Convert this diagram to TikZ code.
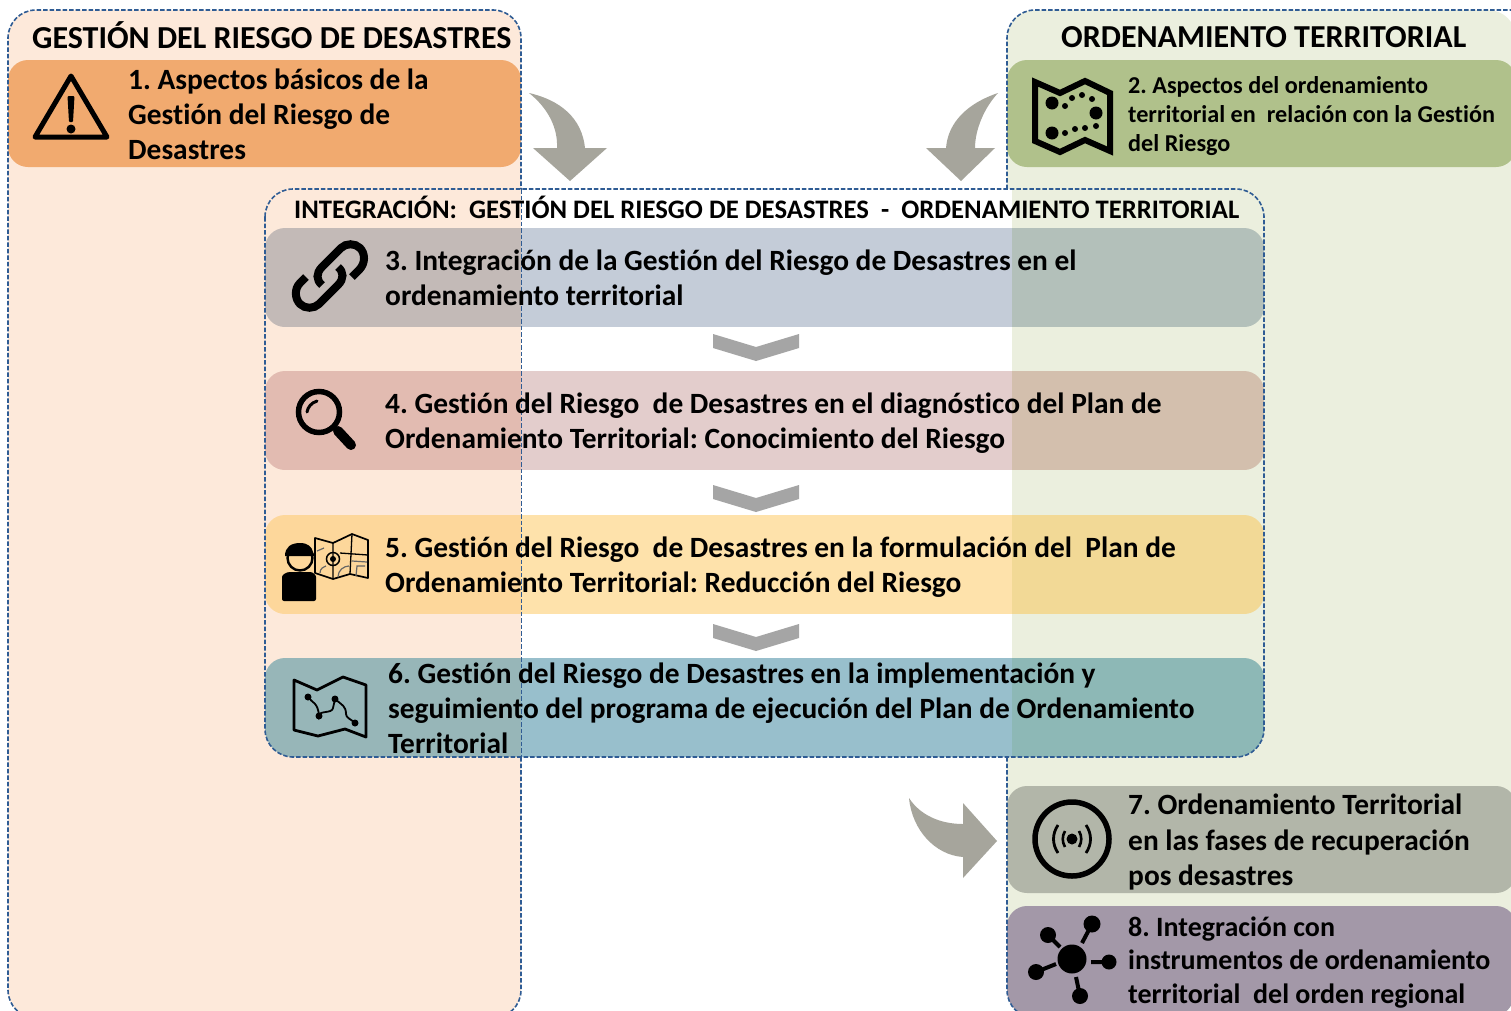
\documentclass[tikz,border=0pt]{standalone}
\usepackage{fontspec}
\setmainfont[Ligatures=CommonOff]{Carlito}
\frenchspacing
\definecolor{bgL}{HTML}{FDE9DA}
\definecolor{bgR}{HTML}{EBEFDE}
\definecolor{dashc}{HTML}{2F5C94}
\definecolor{orangeb}{HTML}{F1AA6F}
\definecolor{greenb}{HTML}{B0C18B}
\definecolor{arrowc}{HTML}{A6A59C}
\definecolor{chevc}{HTML}{A5A5A5}
\definecolor{sevenb}{HTML}{B2B6A9}
\definecolor{eightb}{HTML}{A398A8}
\definecolor{bta}{HTML}{C3BAB7}\definecolor{btb}{HTML}{C4CCD8}\definecolor{btc}{HTML}{B3C0BA}
\definecolor{bfa}{HTML}{E2BBB1}\definecolor{bfb}{HTML}{E3CDCC}\definecolor{bfc}{HTML}{D3BFAD}
\definecolor{bva}{HTML}{FDD79B}\definecolor{bvb}{HTML}{FEE2AB}\definecolor{bvc}{HTML}{F2D996}
\definecolor{bsa}{HTML}{97B6B8}\definecolor{bsb}{HTML}{98BFCC}\definecolor{bsc}{HTML}{8DB8B6}
\tikzset{
  x=1pt,y=-1pt,
  dashb/.style={draw=dashc,line width=1.6pt,dash pattern=on 4.5pt off 2pt},
  lab/.style={anchor=west,inner sep=0pt,align=left,text=black},
  fa/.style={font=\fontsize{29.4}{35.2}\selectfont\bfseries},
  fb/.style={font=\fontsize{24.2}{29}\selectfont\bfseries},
  fd/.style={font=\fontsize{28}{33.4}\selectfont\bfseries},
  ttl/.style={anchor=base west,inner sep=0pt,text=black},
  ico/.style={draw=black,line width=5pt,line join=round,line cap=round},
  blockarrow/.style={fill=arrowc},
  chev/.style={fill=chevc},
}
\newcommand{\bandbox}[5]{%
  \begin{scope}
    \clip[rounded corners=28pt] (265,189) rectangle (1264,757);
    \clip[rounded corners=20pt] (265,#1) rectangle (1264,#2);
    \fill[#3] (265,#1) rectangle (521,#2);
    \fill[#4] (521,#1) rectangle (1012,#2);
    \fill[#5] (1012,#1) rectangle (1264,#2);
  \end{scope}}
\begin{document}
\begin{tikzpicture}
\useasboundingbox (0,0) rectangle (1511,1010);
\fill[white] (0,0) rectangle (1511,1010);
% background panels
\fill[bgL,rounded corners=28pt] (8,10) rectangle (521,1018);
\fill[bgR,rounded corners=28pt] (1007,10) rectangle (1516,1018);
\fill[white] (1007,189) rectangle (1012,757);
\begin{scope}
  \clip[rounded corners=28pt] (265,189) rectangle (1264,757);
  \fill[white] (521,189) rectangle (1012,757);
\end{scope}
% header boxes
\fill[orangeb,rounded corners=20pt] (8,60) rectangle (521,167);
\fill[greenb,rounded corners=20pt] (1007,60) rectangle (1516,167);
\fill[sevenb,rounded corners=20pt] (1007,786) rectangle (1516,893);
\begin{scope}
  \clip[rounded corners=28pt] (1007,10) rectangle (1516,1018);
  \fill[eightb,rounded corners=20pt] (1007,906) rectangle (1516,1040);
\end{scope}
% integration bands
\bandbox{228}{327}{bta}{btb}{btc}
\bandbox{371}{470}{bfa}{bfb}{bfc}
\bandbox{515}{614}{bva}{bvb}{bvc}
\bandbox{658}{790}{bsa}{bsb}{bsc}
% dashed outlines
\draw[dashb,rounded corners=28pt] (521,757) -- (521,1018) -- (8,1018) -- (8,10) -- (521,10) -- (521,189);
\draw[dashb,line width=1pt] (521,189) -- (521,757);
\draw[dashb,rounded corners=28pt] (1007,189) -- (1007,10) -- (1516,10);
\draw[dashb,rounded corners=28pt] (1007,757) -- (1007,1018) -- (1516,1018);
\draw[dashb,rounded corners=28pt] (265,189) rectangle (1264,757);
% block arrows
\fill[blockarrow] (529,93) .. controls (560,100) and (582,118) .. (585,148) -- (607,148) -- (570,181) -- (533,148) -- (557,148) .. controls (558,128) and (548,108) .. (529,93) -- cycle;
\fill[blockarrow] (998,93) .. controls (968,103) and (948,122) .. (946,148) -- (926,148) -- (961,181) -- (995,148) -- (975,148) .. controls (975,130) and (984,108) .. (998,93) -- cycle;
\fill[blockarrow] (909,798) .. controls (920,815) and (940,824) .. (963,824) -- (963,803) -- (997,841) -- (963,878) -- (963,857) .. controls (935,855) and (912,830) .. (909,798) -- cycle;
% chevrons
\foreach \yy in {334,485,624}{
  \fill[chev] (713,\yy) -- (756,\yy+13) -- (799,\yy) -- (799,\yy+14) -- (756,\yy+27) -- (713,\yy+14) -- cycle;
}
% titles
\node[ttl,font=\fontsize{32}{35}\selectfont\bfseries] (t1) at (32,48) {GESTIÓN DEL RIESGO DE DESASTRES};
\node[ttl,font=\fontsize{32}{35}\selectfont\bfseries] (t2) at (1061,47) {ORDENAMIENTO TERRITORIAL};
\node[ttl,font=\fontsize{26.7}{30}\selectfont\bfseries] (t3) at (294,218) {INTEGRACIÓN:\ \ GESTIÓN DEL RIESGO DE DESASTRES\ \ -\ \ ORDENAMIENTO TERRITORIAL};
% labels
\node[lab,fa] (n1) at (128,114.5) {1. Aspectos básicos de la\\Gestión del Riesgo de\\Desastres};
\node[lab,fb] (n2) at (1128,116) {2. Aspectos del ordenamiento\\territorial en\ \ relación con la Gestión\\del Riesgo};
\node[lab,fa] (n3) at (385,278) {3. Integración de la Gestión del Riesgo de Desastres en el\\ordenamiento territorial};
\node[lab,fa] (n4) at (385,423) {4. Gestión del Riesgo\ \ de Desastres en el diagnóstico del Plan de\\Ordenamiento Territorial: Conocimiento del Riesgo};
\node[lab,fa] (n5) at (385,567) {5. Gestión del Riesgo\ \ de Desastres en la formulación del\ \ Plan de\\Ordenamiento Territorial: Reducción del Riesgo};
\node[lab,fa] (n6) at (388,708.5) {6. Gestión del Riesgo de Desastres en la implementación y\\seguimiento del programa de ejecución del Plan de Ordenamiento\\Territorial};
\node[lab,fa] (n7) at (1128,842) {7. Ordenamiento Territorial\\en las fases de recuperación\\pos desastres};
\node[lab,fd] (n8) at (1128,962.5) {8. Integración con\\instrumentos de ordenamiento\\territorial\ \ del orden regional};
% icon 1 warning
\draw[ico] (71,76) -- (35,137) -- (107,137) -- cycle;
\fill[black,rounded corners=1pt] (67.5,96) -- (74.5,96) -- (73,122) -- (69,122) -- cycle;
\fill[black] (71,129) circle (4.5pt);
% icon 2 zone map
\draw[draw=black,line width=6pt,line join=miter] (1035,82) -- (1060,93) -- (1085,81) -- (1110,93) -- (1110,151) -- (1085,140) -- (1060,152) -- (1035,141) -- cycle;
\foreach \px/\py/\pr in {1052/103/6.5,1065/106/3,1072/98/3,1082/95/3,1092/99/3,1096/113/6.5,1052/133/6.5,1065/133/3,1075/129/3,1085/128/3,1096/126/3}{
  \fill[black] (\px,\py) circle (\pr pt);
}
% icon 3 chain
\draw[black,line width=8pt,line cap=butt] (306,277) -- (300,283) .. controls (294,289) and (295,299) .. (300,304) .. controls (305,309) and (314,309) .. (319,304) -- (338,285) .. controls (344,279) and (344,272) .. (338,267);
\draw[black,line width=8pt,line cap=butt] (352,277) -- (359,270) .. controls (366,263) and (365,253) .. (360,248) .. controls (355,243) and (346,243) .. (341,248) -- (322,267) .. controls (316,273) and (316,280) .. (322,285);
% icon 4 magnifier
\draw[black,line width=5.5pt] (319,412) circle (20.5pt);
\draw[black,line width=3pt,line cap=round] (307,412) .. controls (308,407) and (311,403) .. (317,401);
\draw[black,line width=10pt,line cap=round] (338,431) -- (351,445);
% icon 5 person and map
\fill[black,rounded corners=2pt] (282,601) -- (282,579) .. controls (282,575) and (286,572) .. (292,572) -- (308,572) .. controls (313,572) and (316,575) .. (316,579) -- (316,601) -- cycle;
\draw[black,line width=2.4pt] (300,558) circle (12.5pt);
\fill[black] (285,556) .. controls (285,547) and (291,543) .. (300,543) .. controls (308,543) and (312,547) .. (313,552) -- (315,556) -- cycle;
\draw[black,line width=1.7pt,line join=round] (315,538) -- (333,543) -- (352,534) -- (368,540) -- (368,578) -- (350,574) -- (333,579) -- (315,573) -- cycle;
\draw[black,line width=1.3pt] (333,543) -- (333,579) (352,534) -- (350,574) (340,553) -- (368,555);
\draw[black!60,line width=1.2pt] (317,551) -- (324,548) (352,561) -- (367,562) (338,577) .. controls (338,570) and (344,566) .. (349,566) (320,573) .. controls (320,568) and (324,567) .. (326,566) (356,576) -- (357,566) -- (365,566);
\draw[black,line width=1.5pt] (333,559) circle (6.5pt);
\fill[black] (333,559) circle (3pt);
% icon 6 route map
\draw[black,line width=2.8pt,line join=round] (294,680) -- (317,690) -- (343,677) -- (366,685) -- (366,737) -- (345,729) -- (318,736) -- (294,730) -- cycle;
\draw[black,line width=1.8pt] (308,697) .. controls (312,703) and (318,702) .. (319,716) .. controls (319,710) and (332,714) .. (333,708) -- (335,699) .. controls (342,705) and (346,706) .. (346,714) .. controls (346,718) and (351,719) .. (355,723);
\fill[black] (308,697) circle (3.5pt) (319,716) circle (3.5pt) (335,699) circle (3.5pt) (355,723) circle (3.5pt);
% icon 7 broadcast
\draw[black,line width=5.5pt] (1072,839) circle (37pt);
\fill[black] (1072,839) circle (5.5pt);
\draw[black,line width=2.6pt] (1065,831) .. controls (1062,836) and (1062,842) .. (1065,847) (1079,831) .. controls (1082,836) and (1082,842) .. (1079,847);
\draw[black,line width=2.8pt] (1058,825) .. controls (1052,834) and (1052,844) .. (1058,853) (1086,825) .. controls (1092,834) and (1092,844) .. (1086,853);
% icon 8 hub
\fill[black] (1072,959) circle (14.5pt);
\fill[black] (1048,935) circle (8pt) (1092,924) circle (8.5pt) (1036,972) circle (8pt) (1109,962) circle (7.5pt) (1080,996) circle (8pt);
\draw[black,line width=4pt] (1048,935) -- (1060,947) (1092,924) -- (1082,943) (1036,972) -- (1056,964) (1109,962) -- (1091,962) (1080,996) -- (1076,977);
\end{tikzpicture}
\end{document}
